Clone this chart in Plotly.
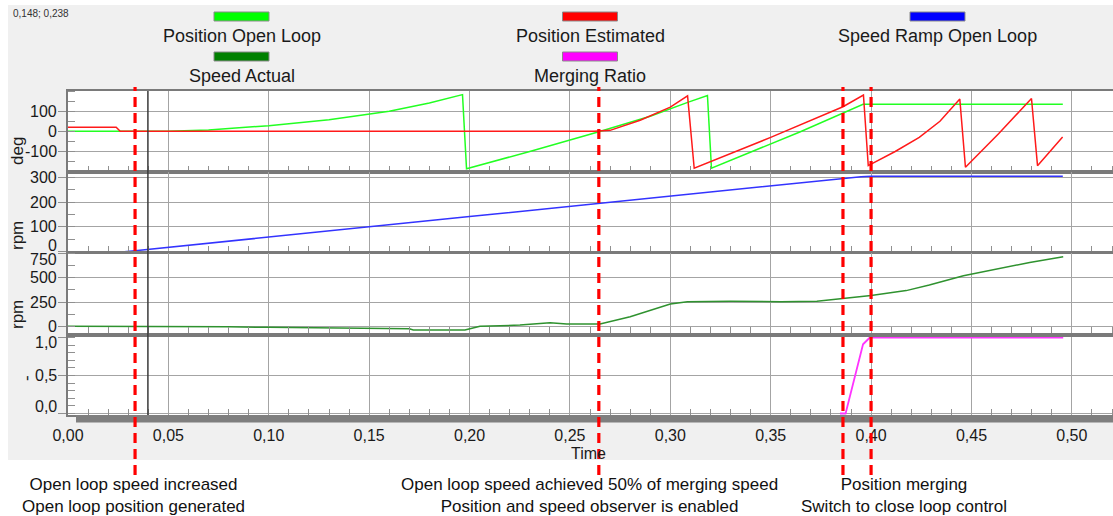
import plotly.graph_objects as go

# ---------------- data ----------------
# Position Open Loop (deg)
pos_ol_t = [0.0, 0.040, 0.05, 0.07, 0.10, 0.13, 0.16, 0.18, 0.1965, 0.1985, 0.23, 0.264, 0.29, 0.309, 0.3185,
            0.3205, 0.3645, 0.396, 0.4955]
pos_ol_v = [0, 0, 1, 7, 28, 58, 100, 140, 182, -185, -100, -3, 75, 145, 178,
            -183, -3, 134, 134]

# Position Estimated (deg)
pos_est_t = [0.0, 0.024, 0.026, 0.262, 0.27, 0.285, 0.30, 0.3086, 0.3119, 0.35, 0.386, 0.3962,
             0.3986, 0.4005, 0.412, 0.424, 0.4343, 0.4442, 0.447, 0.4635, 0.4799, 0.4829, 0.4954]
pos_est_v = [20, 20, 0, 0, 5, 55, 120, 176, -183, -30, 122, 180,
             -170, -160, -100, -30, 50, 160, -178, -12, 163, -170, -28]

# Speed Ramp Open Loop (rpm)
spd_ramp_t = [0.0, 0.028, 0.0334, 0.10, 0.15, 0.20, 0.264, 0.30, 0.35, 0.386, 0.395, 0.40, 0.4955]
spd_ramp_v = [0, 0, 4, 58, 99, 142, 195, 225, 265, 296, 303, 305, 305]

# Speed Actual (rpm)
spd_act_t = [0.0, 0.075, 0.08, 0.10, 0.13, 0.1554, 0.17, 0.172, 0.1977, 0.2052, 0.2251, 0.2401, 0.2484,
             0.265, 0.28, 0.30, 0.3085, 0.33, 0.355, 0.373, 0.386, 0.40, 0.4175, 0.429, 0.446, 0.4625,
             0.479, 0.4957]
spd_act_v = [0, 0, -5, -10, -15, -24, -24, -38, -38, 0, 13, 37, 24,
             24, 99, 230, 253, 257, 253, 258, 289, 316, 367, 425, 520, 588,
             656, 714]

# Merging Ratio (-)
merge_t = [0.3845, 0.3873, 0.396, 0.3994, 0.4957]
merge_v = [0.0, 0.0, 0.91, 1.0, 1.0]

# event markers (time) and cursor
event_times = [0.0334, 0.2644, 0.386, 0.400]
cursor_time = 0.0398

# y tick values / labels per panel
deg_ticks = [-100, 0, 100]
deg_labels = ["-100", "0", "100"]
ramp_ticks = [0, 100, 200, 300]
ramp_labels = ["0", "100", "200", "300"]
act_ticks = [0, 250, 500, 750]
act_labels = ["0", "250", "500", "750"]
merge_ticks = [0.0, 0.5, 1.0]
merge_labels = ["0,0", "0,5", "1,0"]

legend_names = ["Position Open Loop", "Speed Actual", "Position Estimated", "Merging Ratio",
                "Speed Ramp Open Loop"]
bottom_notes = [
    "Open loop speed increased<br>Open loop position generated",
    "Open loop speed achieved 50% of merging speed<br>Position and speed observer is enabled",
    "Position merging<br>Switch to close loop control",
]

# ---------------- layout helpers ----------------
W, H = 1113, 516
L, R = 68, 1113
T, B = 91, 415


def px(x):
    return (x - L) / (R - L)


def py(y):
    return (B - y) / (B - T)


FONT = "Liberation Sans, Arial, sans-serif"
GRID = "#a4a4a4"
BORDER = "#7a7a7a"
TXT = "#1a1a1a"

C_POS_OL = "#22ff22"
C_SPD_ACT = "#2f922f"
C_POS_EST = "#ff1a1a"
C_MERGE = "#ff33ff"
C_RAMP = "#3333ff"

fig = go.Figure()
fig.add_trace(go.Scatter(x=pos_ol_t, y=pos_ol_v, mode="lines", line=dict(color=C_POS_OL, width=1.5),
                         xaxis="x", yaxis="y", name=legend_names[0]))
fig.add_trace(go.Scatter(x=pos_est_t, y=pos_est_v, mode="lines", line=dict(color=C_POS_EST, width=1.5),
                         xaxis="x", yaxis="y", name=legend_names[2]))
fig.add_trace(go.Scatter(x=spd_ramp_t, y=spd_ramp_v, mode="lines", line=dict(color=C_RAMP, width=1.5),
                         xaxis="x2", yaxis="y2", name=legend_names[4]))
fig.add_trace(go.Scatter(x=spd_act_t, y=spd_act_v, mode="lines", line=dict(color=C_SPD_ACT, width=1.5),
                         xaxis="x3", yaxis="y3", name=legend_names[1]))
fig.add_trace(go.Scatter(x=merge_t, y=merge_v, mode="lines", line=dict(color=C_MERGE, width=1.8),
                         xaxis="x4", yaxis="y4", name=legend_names[3]))

xr = [0, 0.5205]


def xaxis_cfg(anchor, labels):
    d = dict(range=xr, anchor=anchor, domain=[0, 1], showgrid=True, gridcolor=GRID, gridwidth=1,
             dtick=0.05, tick0=0, ticks="", showline=True, mirror=True, linecolor=BORDER, linewidth=2,
             zeroline=False, showticklabels=labels,
             minor=dict(dtick=0.01, tick0=0, ticks="inside", ticklen=6, tickcolor="#909090", tickwidth=1,
                        showgrid=False))
    if labels:
        d.update(tickformat=".2f", tickfont=dict(family=FONT, size=16, color=TXT),
                 ticklabelstandoff=5)
    return d


def yaxis_cfg(anchor, dom, rng, tvals, mdt):
    return dict(domain=dom, range=rng, anchor=anchor, tickvals=tvals, showgrid=True,
                gridcolor=GRID, gridwidth=1, ticks="outside", ticklen=8, tickcolor="#909090",
                showline=True, linecolor=BORDER, linewidth=1.5, showticklabels=False,
                zeroline=False,
                minor=dict(dtick=mdt, ticks="inside", ticklen=7, tickcolor="#909090", tickwidth=1,
                           showgrid=False))


fig.update_layout(
    width=W, height=H,
    margin=dict(l=L, r=W - R, t=T, b=H - B, pad=0),
    paper_bgcolor="#f0f0f0", plot_bgcolor="white",
    separators=",.",
    showlegend=False,
    font=dict(family=FONT, size=16, color=TXT),
    xaxis=xaxis_cfg("y", False),
    xaxis2=xaxis_cfg("y2", False),
    xaxis3=xaxis_cfg("y3", False),
    xaxis4=xaxis_cfg("y4", True),
    yaxis=yaxis_cfg("x", [py(172.3), 1.0], [-203, 200], deg_ticks, 50),
    yaxis2=yaxis_cfg("x2", [py(252.2), py(172.3)], [-2, 321], ramp_ticks, 50),
    yaxis3=yaxis_cfg("x3", [py(333), py(252.6)], [-68, 757], act_ticks, 125),
    yaxis4=yaxis_cfg("x4", [0, py(336.5)], [-0.02, 1.013], merge_ticks, 0.1),
)

shapes = []
# white outer strips
shapes.append(dict(type="rect", xref="paper", yref="paper", x0=px(0), x1=px(W), y0=py(H), y1=py(460),
                   fillcolor="white", line=dict(width=0), layer="below"))
shapes.append(dict(type="rect", xref="paper", yref="paper", x0=px(0), x1=px(8), y0=py(H), y1=py(0),
                   fillcolor="white", line=dict(width=0), layer="below"))
shapes.append(dict(type="rect", xref="paper", yref="paper", x0=px(0), x1=px(W), y0=py(5), y1=py(0),
                   fillcolor="white", line=dict(width=0), layer="below"))
# bottom scroll bar
shapes.append(dict(type="rect", xref="paper", yref="paper", x0=px(76), x1=1.0, y0=py(422.5), y1=py(415),
                   fillcolor="#7f7f7f", line=dict(width=0), layer="above"))
# cursor line
shapes.append(dict(type="line", xref="x", yref="paper", x0=cursor_time, x1=cursor_time, y0=0, y1=1,
                   line=dict(color="#3a3a3a", width=1.5), layer="above"))
# event dashed lines
for et in event_times:
    shapes.append(dict(type="line", xref="x", yref="paper", x0=et, x1=et, y0=py(475), y1=py(87),
                       line=dict(color="#ff0000", width=3.2, dash="10px,6px"), layer="above"))

annotations = []

# y tick labels, positioned on each panel's own axis scale
tick_sets = [
    ("y", deg_ticks, deg_labels, [0, 0, 0]),
    ("y2", ramp_ticks, ramp_labels, [6, 0, 0, 0]),
    ("y3", act_ticks, act_labels, [0, 0, 0, -6]),
    ("y4", merge_ticks, merge_labels, [7, 0, -5]),
]
for yref, vals, labs, shifts in tick_sets:
    for v, lab, sh in zip(vals, labs, shifts):
        annotations.append(dict(text=lab, xref="paper", yref=yref, x=px(59), y=v, yshift=sh,
                                xanchor="right", yanchor="middle", showarrow=False,
                                font=dict(family=FONT, size=16, color=TXT)))

# legend swatches
legend_items = [
    (legend_names[0], "#00ff00", 241.5, 0),
    (legend_names[1], "#008000", 241.5, 1),
    (legend_names[2], "#ff0000", 590, 0),
    (legend_names[3], "#ff00ff", 590, 1),
    (legend_names[4], "#0000ff", 937.5, 0),
]
for name, col, cx, row in legend_items:
    y0 = 12 + row * 40
    shapes.append(dict(type="rect", xref="paper", yref="paper", x0=px(cx - 27.5), x1=px(cx + 27.5),
                       y0=py(y0 + 9), y1=py(y0), fillcolor=col, line=dict(color="#8a8a8a", width=1)))
    annotations.append(dict(text=name, xref="paper", yref="paper", x=px(cx), y=py(y0 + 24),
                            xanchor="center", yanchor="middle", showarrow=False,
                            font=dict(family=FONT, size=18, color=TXT)))

fig.update_layout(shapes=shapes)

# y-axis titles
for txt, yy, xx in [("deg", 151, 17), ("rpm", 236, 17), ("rpm", 315, 17), ("-", 378, 26)]:
    annotations.append(dict(text=txt, xref="paper", yref="paper", x=px(xx), y=py(yy), textangle=-90,
                            xanchor="center", yanchor="middle", showarrow=False,
                            font=dict(family=FONT, size=17, color=TXT)))

# x-axis title
annotations.append(dict(text="Time", xref="paper", yref="paper", x=px(588), y=py(453), xanchor="center",
                        yanchor="middle", showarrow=False, font=dict(family=FONT, size=16, color=TXT)))

# cursor readout
annotations.append(dict(text="0,148; 0,238", xref="paper", yref="paper", x=px(11), y=py(13),
                        xanchor="left", yanchor="middle", showarrow=False,
                        font=dict(family=FONT, size=10, color="#333333")))

# bottom notes
for txt, cx in zip(bottom_notes, [133, 589, 904]):
    annotations.append(dict(text=txt, xref="paper", yref="paper", x=px(cx), y=py(495), xanchor="center",
                            yanchor="middle", showarrow=False, align="center",
                            font=dict(family=FONT, size=17, color="#111111")))

fig.update_layout(annotations=annotations)

fig.write_html("out.html")
